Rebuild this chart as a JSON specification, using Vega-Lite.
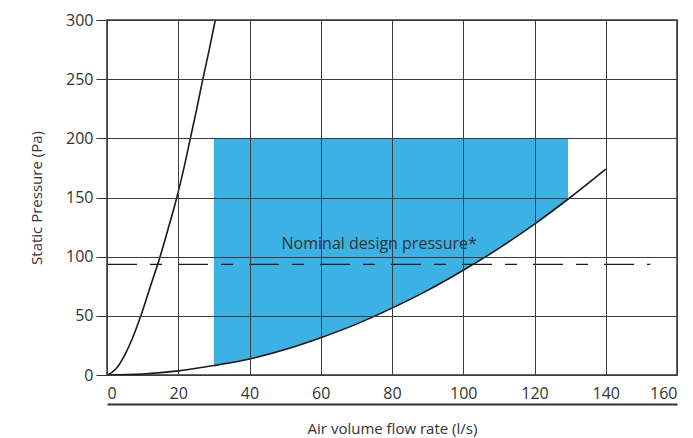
{
  "$schema": "https://vega.github.io/schema/vega-lite/v6.json",
  "width": 570,
  "height": 355,
  "autosize": "none",
  "padding": {"left": 107, "top": 20, "right": 16, "bottom": 63},
  "config": {
    "view": {"stroke": "#333333", "strokeWidth": 1.5},
    "font": "Open Sans",
    "axis": {"labelFont": "Open Sans", "titleFont": "Open Sans", "labelColor": "#333333", "titleColor": "#333333", "titleFontWeight": "normal", "gridColor": "#3c3c3c", "gridOpacity": 1, "gridWidth": 1}
  },
  "datasets": {
    "region": [
      {"q": 30, "p": 8.0},
      {"q": 40, "p": 13.5},
      {"q": 50, "p": 21.5},
      {"q": 60, "p": 31.5},
      {"q": 70, "p": 43.0},
      {"q": 80, "p": 56.5},
      {"q": 90, "p": 71.5},
      {"q": 100, "p": 88.5},
      {"q": 110, "p": 107.0},
      {"q": 120, "p": 127.5},
      {"q": 129.4, "p": 148.5}
    ],
    "curves": [
      {"series": "steep", "q": 0, "p": 0},
      {"series": "steep", "q": 1.5, "p": 2.5},
      {"series": "steep", "q": 3, "p": 7},
      {"series": "steep", "q": 5, "p": 17},
      {"series": "steep", "q": 7, "p": 30},
      {"series": "steep", "q": 9.5, "p": 50},
      {"series": "steep", "q": 12.2, "p": 75},
      {"series": "steep", "q": 14.9, "p": 100},
      {"series": "steep", "q": 17.3, "p": 125},
      {"series": "steep", "q": 19.6, "p": 150},
      {"series": "steep", "q": 21.6, "p": 175},
      {"series": "steep", "q": 23.4, "p": 200},
      {"series": "steep", "q": 25.2, "p": 225},
      {"series": "steep", "q": 26.9, "p": 250},
      {"series": "steep", "q": 28.7, "p": 275},
      {"series": "steep", "q": 30.4, "p": 300},
      {"series": "system", "q": 0, "p": 0},
      {"series": "system", "q": 10, "p": 0.9},
      {"series": "system", "q": 20, "p": 3.5},
      {"series": "system", "q": 30, "p": 8.0},
      {"series": "system", "q": 40, "p": 13.5},
      {"series": "system", "q": 50, "p": 21.5},
      {"series": "system", "q": 60, "p": 31.5},
      {"series": "system", "q": 70, "p": 43.0},
      {"series": "system", "q": 80, "p": 56.5},
      {"series": "system", "q": 90, "p": 71.5},
      {"series": "system", "q": 100, "p": 88.5},
      {"series": "system", "q": 110, "p": 107.0},
      {"series": "system", "q": 120, "p": 127.5},
      {"series": "system", "q": 130, "p": 150.0},
      {"series": "system", "q": 140, "p": 174.0}
    ],
    "design": [{"q0": 0, "q1": 152.5, "p": 93.5}],
    "note": [{"q": 76.4, "p": 111, "label": "Nominal design pressure*"}]
  },
  "layer": [
    {
      "data": {"name": "region"},
      "mark": {"type": "area", "color": "#3bb1e4", "opacity": 1, "interpolate": "monotone"},
      "encoding": {
        "x": {
          "field": "q", "type": "quantitative",
          "scale": {"domain": [0, 160], "nice": false},
          "axis": {
            "values": [0, 20, 40, 60, 80, 100, 120, 140, 160],
            "title": "Air volume flow rate (l/s)",
            "titleFontSize": 15,
            "titlePadding": 17,
            "labelFontSize": 16,
            "labelFlush": true,
            "ticks": false,
            "domain": true,
            "domainColor": "#333333",
            "domainWidth": 2,
            "offset": 29,
            "labelPadding": -19,
            "grid": true,
            "zindex": 1
          }
        },
        "y": {
          "field": "p", "type": "quantitative",
          "scale": {"domain": [0, 300], "nice": false},
          "axis": {
            "values": [0, 50, 100, 150, 200, 250, 300],
            "title": "Static Pressure (Pa)",
            "titleFontSize": 15,
            "titlePadding": 21,
            "labelFontSize": 16,
            "labelPadding": 3,
            "tickSize": 11,
            "tickColor": "#333333",
            "domain": false,
            "grid": true,
            "zindex": 1
          }
        },
        "y2": {"datum": 200}
      }
    },
    {
      "data": {"name": "curves"},
      "mark": {"type": "line", "color": "#1a1a1a", "strokeWidth": 1.6, "interpolate": "monotone"},
      "encoding": {
        "x": {"field": "q", "type": "quantitative"},
        "y": {"field": "p", "type": "quantitative"},
        "detail": {"field": "series"}
      }
    },
    {
      "data": {"name": "design"},
      "mark": {"type": "rule", "color": "#1a1a1a", "strokeWidth": 1.4, "strokeDash": [30, 13, 12, 16]},
      "encoding": {
        "x": {"field": "q0", "type": "quantitative"},
        "x2": {"field": "q1"},
        "y": {"field": "p", "type": "quantitative"}
      }
    },
    {
      "data": {"name": "note"},
      "mark": {"type": "text", "fontSize": 16, "color": "#333333", "align": "center", "baseline": "middle", "font": "Open Sans"},
      "encoding": {
        "x": {"field": "q", "type": "quantitative"},
        "y": {"field": "p", "type": "quantitative"},
        "text": {"field": "label"}
      }
    }
  ]
}
